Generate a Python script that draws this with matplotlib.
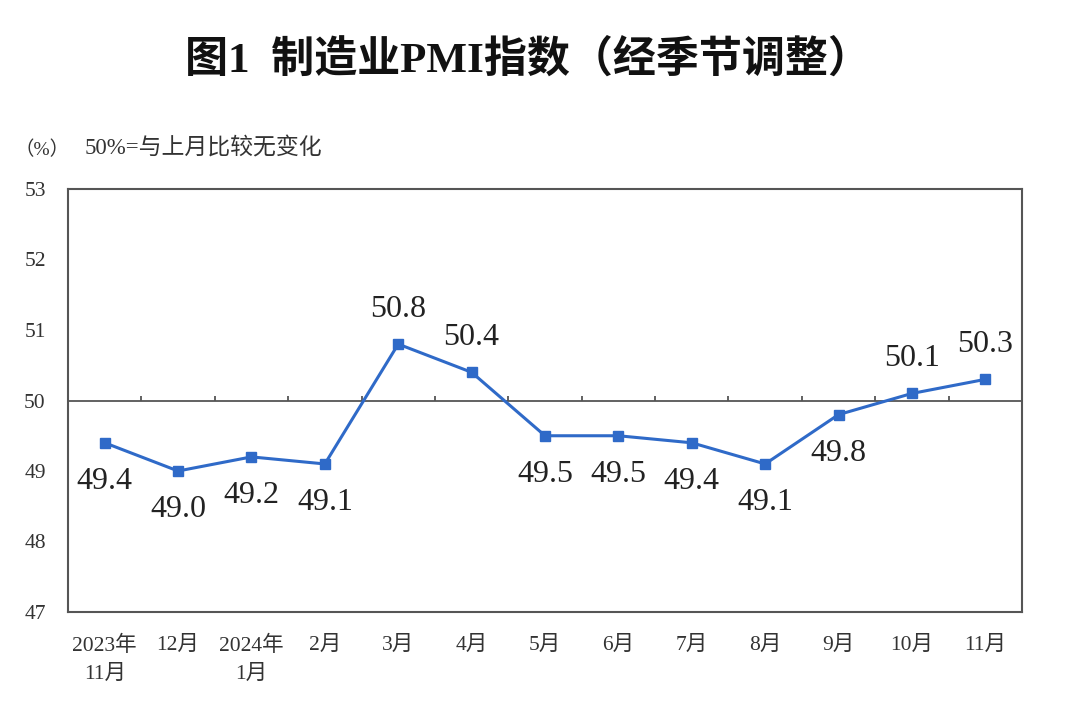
import matplotlib
matplotlib.use("Agg")
import matplotlib.pyplot as plt
import numpy as np

# 数据
months = ["2023年\n11月", "12月", "2024年\n1月", "2月", "3月", "4月", "5月",
          "6月", "7月", "8月", "9月", "10月", "11月"]
pmi = [49.4, 49.0, 49.2, 49.1, 50.8, 50.4, 49.5, 49.5, 49.4, 49.1, 49.8, 50.1, 50.3]
# 标签在点的上方(1)还是下方(-1)
label_side = [-1, -1, -1, -1, 1, 1, -1, -1, -1, -1, -1, 1, 1]

fonts = ["Liberation Serif", "Noto Sans CJK SC"]
plt.rcParams["font.family"] = fonts
plt.rcParams["axes.unicode_minus"] = False

fig = plt.figure(figsize=(10.66, 7.14), dpi=100)
ax = fig.add_axes([68 / 1066, 1 - 612 / 714, 954 / 1066, 423 / 714])

x = np.arange(len(months))
line_color = "#2f6ac8"
ax.plot(x, pmi, color=line_color, lw=2.2, marker="s", ms=7, zorder=3)

# 50 基准线和分隔刻度
ax.axhline(50, color="#555555", lw=1.3, zorder=2)
ax.vlines(x[:-1] + 0.5, 50, 50.07, color="#555555", lw=1.3, zorder=2)

# 数据标签
for xi, v, s in zip(x, pmi, label_side):
    off = 25 if s > 0 else -28
    ax.annotate(f"{v:.1f}", (xi, v), xytext=(0, off), textcoords="offset points",
                ha="center", va="center", fontsize=23, color="#222222")

ax.set_xlim(-0.5, len(months) - 0.5)
ax.set_ylim(47, 53)
ax.set_yticks(range(47, 54))
ax.set_xticks(x)
ax.set_xticklabels(months, fontsize=15.5, color="#333333", linespacing=1.6)
ax.tick_params(axis="y", length=0, pad=16, labelsize=15.5, labelcolor="#333333")
ax.tick_params(axis="x", length=0, pad=17)
for sp in ax.spines.values():
    sp.set_color("#555555")
    sp.set_linewidth(1.5)

fig.text(528 / 1066, 1 - 60 / 714, "图1  制造业PMI指数（经季节调整）",
         ha="center", va="center", fontsize=31, fontweight="bold", color="#111111")
fig.text(14 / 1066, 1 - 150 / 714, "（%）", ha="left", va="center",
         fontsize=14, color="#333333")
fig.text(85 / 1066, 1 - 148 / 714, "50%=与上月比较无变化", ha="left", va="center",
         fontsize=16.5, color="#333333")

fig.savefig("out.png", dpi=100, facecolor="white")
